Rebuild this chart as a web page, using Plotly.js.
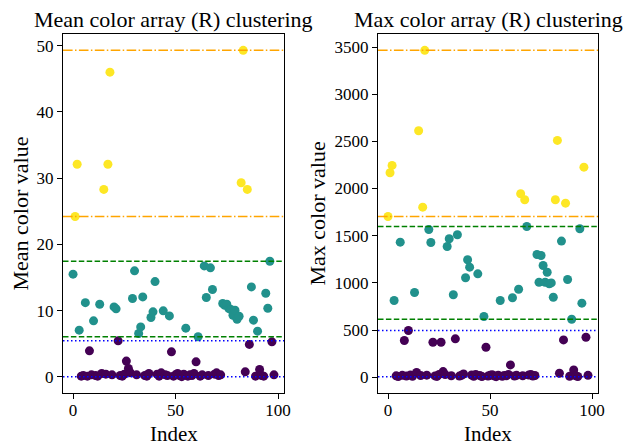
<!DOCTYPE html>
<html>
<head>
<meta charset="utf-8">
<script src="https://cdn.plot.ly/plotly-3.0.1.min.js"></script>
<style>
  html, body { margin: 0; padding: 0; background: #fff; }
  #chart { width: 626px; height: 448px; }
</style>
</head>
<body>
<div id="chart"></div>
<script>
// Mean of the R channel per image, indexed 0..98
const meanValues = [
  15.5, 24.2, 32.1, 7.04, 0.1, 0.2, 11.2, 0.1, 3.92, 0.3,
  8.45, 0.2, 0.1, 10.96, 0.5, 28.3, 0.4, 32.1, 46.0, 0.3,
  10.56, 10.26, 5.43, 0.2, 0.1, 0.4, 2.37, 1.26, 0.6, 11.82,
  16.0, 0.3, 6.54, 7.54, 12.07, 0.2, 0.1, 0.5, 8.96, 9.81,
  14.38, 0.4, 0.1, 0.6, 9.96, 0.3, 0.2, 9.2, 3.77, 0.1,
  0.3, 0.5, 0.2, 0.02, 0.4, 7.35, 0.1, 0.3, 0.2, 0.5,
  2.26, 6.05, 0.1, 0.3, 16.75, 11.97, 0.2, 16.45, 13.18, 0.4,
  0.6, 0.2, 0.3, 11.07, 10.8, 10.96, 10.3, 10.16, 9.3, 10.06,
  8.7, 9.15, 29.3, 49.3, 0.75, 28.3, 4.89, 13.58, 8.55, 0.1,
  6.89, 1.1, 0.2, 0.1, 12.62, 10.36, 17.45, 5.28, 0.3
];
// Cluster label (0, 1, 2) of each mean value
const meanCluster = [
  1, 2, 2, 1, 0, 0, 1, 0, 0, 0,
  1, 0, 0, 1, 0, 2, 0, 2, 2, 0,
  1, 1, 0, 0, 0, 0, 0, 0, 0, 1,
  1, 0, 1, 1, 1, 0, 0, 0, 1, 1,
  1, 0, 0, 0, 1, 0, 0, 1, 0, 0,
  0, 0, 0, 0, 0, 1, 0, 0, 0, 0,
  0, 1, 0, 0, 1, 1, 0, 1, 1, 0,
  0, 0, 0, 1, 1, 1, 1, 1, 1, 1,
  1, 1, 2, 2, 0, 2, 0, 1, 1, 0,
  1, 0, 0, 0, 1, 1, 1, 0, 0
];
// Max of the R channel per image, indexed 0..98
const maxValues = [
  1704, 2167, 2245, 813, 15, 8, 1432, 20, 389, 12,
  495, 25, 10, 898, 50, 2613, 18, 1803, 3465, 22,
  1566, 1428, 371, 14, 9, 30, 371, 60, 28, 1386,
  1468, 16, 874, 407, 1510, 12, 20, 35, 1054, 1245,
  1167, 24, 10, 30, 1096, 18, 8, 644, 318, 12,
  20, 26, 14, 6, 22, 813, 10, 18, 15, 30,
  131, 842, 12, 20, 933, 1945, 16, 1881, 1598, 24,
  30, 12, 18, 1301, 1007, 1290, 1184, 1007, 1113, 990,
  1000, 848, 1881, 2510, 42, 1443, 396, 1845, 1036, 10,
  615, 78, 15, 8, 1574, 785, 2227, 424, 20
];
// Cluster label (0, 1, 2) of each max value
const maxCluster = [
  2, 2, 2, 1, 0, 0, 1, 0, 0, 0,
  0, 0, 0, 1, 0, 2, 0, 2, 2, 0,
  1, 1, 0, 0, 0, 0, 0, 0, 0, 1,
  1, 0, 1, 0, 1, 0, 0, 0, 1, 1,
  1, 0, 0, 0, 1, 0, 0, 1, 0, 0,
  0, 0, 0, 0, 0, 1, 0, 0, 0, 0,
  0, 1, 0, 0, 1, 2, 0, 2, 1, 0,
  0, 0, 0, 1, 1, 1, 1, 1, 1, 1,
  1, 1, 2, 2, 0, 1, 0, 2, 1, 0,
  1, 0, 0, 0, 1, 1, 2, 0, 0
];

const panelTitles = ['Mean color array (R) clustering', 'Max color array (R) clustering'];
const yTitles = ['Mean color value', 'Max color value'];
const xTitle = 'Index';

// viridis at 0, 0.5, 1
const clusterColors = ['#440154', '#21918c', '#fde725'];
// bound lines per cluster: colour and dash pattern
const boundStyles = [
  { color: '#0000ff', dash: '1.5px,2.5px' },
  { color: '#008000', dash: '5.5px,2.4px' },
  { color: '#ffa500', dash: '9.6px,2.4px,1.5px,2.4px' }
];

const FONT = 'Liberation Serif, Times New Roman, serif';

function paddedRange(vals) {
  const lo = Math.min(...vals), hi = Math.max(...vals);
  const pad = (hi - lo) * 0.05;
  return [lo - pad, hi + pad];
}

const traces = [];
const shapes = [];
const panels = [
  { vals: meanValues, labels: meanCluster, xa: 'x', ya: 'y' },
  { vals: maxValues, labels: maxCluster, xa: 'x2', ya: 'y2' }
];

panels.forEach(p => {
  const idx = p.vals.map((_, i) => i);
  traces.push({
    type: 'scatter', mode: 'markers',
    x: idx, y: p.vals,
    xaxis: p.xa, yaxis: p.ya,
    marker: { size: 9, color: p.labels.map(c => clusterColors[c]), line: { width: 0 } },
    hoverinfo: 'x+y', showlegend: false
  });
  // horizontal lines at each cluster's min and max
  [0, 1, 2].forEach(c => {
    const members = p.vals.filter((_, i) => p.labels[i] === c);
    [Math.min(...members), Math.max(...members)].forEach(v => {
      shapes.push({
        type: 'line', xref: p.xa + ' domain', yref: p.ya,
        x0: 0, x1: 1, y0: v, y1: v,
        line: { color: boundStyles[c].color, width: 1.5, dash: boundStyles[c].dash },
        layer: 'above'
      });
    });
  });
});

function axisStyle(extra) {
  return Object.assign({
    showline: true, mirror: true, linecolor: '#000', linewidth: 1,
    ticks: 'outside', ticklen: 5, tickwidth: 1, tickcolor: '#000',
    showgrid: false, zeroline: false,
    tickfont: { family: FONT, size: 17, color: '#000' }
  }, extra);
}

const xr = paddedRange(meanValues.map((_, i) => i));

const annotations = [];
['x', 'x2'].forEach((xa, k) => {
  annotations.push({
    text: panelTitles[k], xref: xa + ' domain', yref: 'paper',
    x: 0.5, y: 1, yshift: 15, xanchor: 'center', yanchor: 'middle',
    showarrow: false, font: { family: FONT, size: 22, color: '#000' }
  });
  annotations.push({
    text: xTitle, xref: xa + ' domain', yref: 'paper',
    x: 0.5, y: 0, yshift: -41, xanchor: 'center', yanchor: 'middle',
    showarrow: false, font: { family: FONT, size: 21, color: '#000' }
  });
  annotations.push({
    text: yTitles[k], xref: xa + ' domain', yref: 'paper',
    x: 0, y: 0.5, xshift: k === 0 ? -43 : -61, xanchor: 'center', yanchor: 'middle',
    textangle: -90, showarrow: false, font: { family: FONT, size: 22, color: '#000' }
  });
});

const layout = {
  width: 626, height: 448,
  margin: { l: 63, r: 28, t: 34, b: 55 },
  paper_bgcolor: '#fff', plot_bgcolor: '#fff',
  showlegend: false,
  xaxis: axisStyle({ domain: [0, 0.4131], range: xr, tickvals: [0, 50, 100], ticklabelstandoff: -3 }),
  yaxis: axisStyle({ domain: [0, 1], range: paddedRange(meanValues), tickvals: [0, 10, 20, 30, 40, 50] }),
  xaxis2: axisStyle({ domain: [0.5888, 1], range: xr, tickvals: [0, 50, 100], anchor: 'y2', ticklabelstandoff: -3 }),
  yaxis2: axisStyle({ domain: [0, 1], range: paddedRange(maxValues), anchor: 'x2',
    tickvals: [0, 500, 1000, 1500, 2000, 2500, 3000, 3500] }),
  shapes: shapes,
  annotations: annotations
};

Plotly.newPlot('chart', traces, layout, { displayModeBar: false, staticPlot: true });
</script>
</body>
</html>
